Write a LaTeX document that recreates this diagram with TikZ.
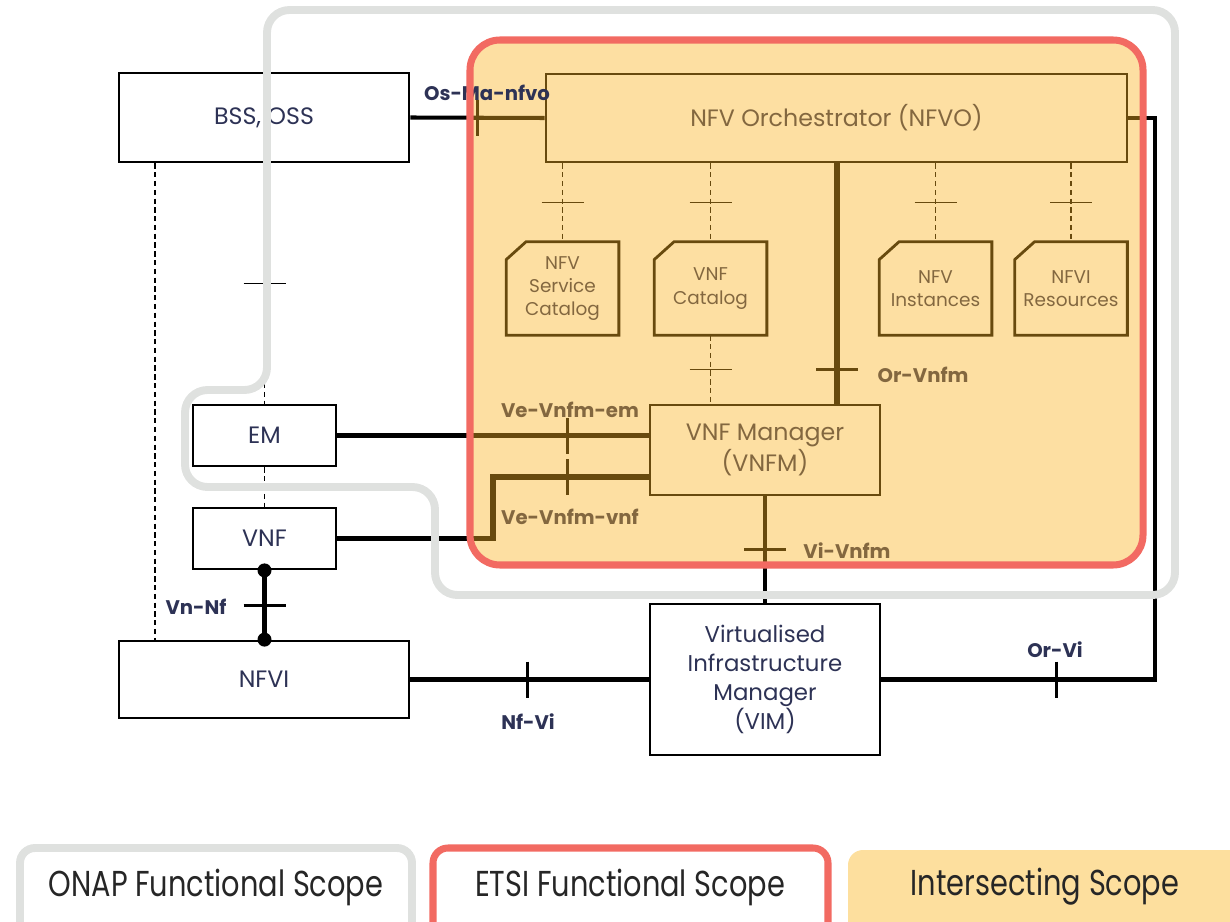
\documentclass[tikz,border=0pt]{standalone}
\usepackage{fontspec}
\setmainfont{Poppins}

\definecolor{etsired}{RGB}{242,106,98}
\definecolor{onapgray}{RGB}{223,225,223}
\definecolor{tint}{RGB}{250,178,34}
\definecolor{legorange}{RGB}{253,223,158}
\definecolor{navy}{RGB}{45,50,85}

\tikzset{
	box/.style={draw, line width=1.6pt, text=navy, inner sep=0pt, align=center, font=\fontsize{13.5}{16}\selectfont},
	store/.style={rectangle, text=navy, inner sep=0pt, align=center, minimum width=2.24cm, minimum height=1.86cm, font=\fontsize{10.5}{13.3}\selectfont},
	storeline/.style={line width=1.6pt},
	conn/.style={line width=2.3pt},
	thickconn/.style={line width=3.2pt},
	ref/.style={densely dashed, line width=0.8pt},
	iface/.style={text=navy, font=\bfseries\fontsize{11.2}{13}\selectfont},
	onap/.style={draw=onapgray, line width=4.5pt, rounded corners=0.45cm},
	etsi/.style={draw=etsired, line width=4pt, rounded corners=0.6cm},
	etsiscope/.style={fill=tint, opacity=0.42, rounded corners=0.6cm},
	legend/.style={text=black!85, font=\fontsize{20.5}{24}\selectfont},
	vbar/.pic={\draw[line width=1.7pt] (0,-18) -- (0,18);},
	hbar/.pic={\draw[line width=1.7pt] (-21,0) -- (21,0);},
	hbarthin/.pic={\draw[line width=0.8pt] (-21,0) -- (21,0);},
}

\begin{document}
\begin{tikzpicture}[x=0.02cm, y=-0.02cm]
	% canvas of the reference size
	\useasboundingbox (0,0) rectangle (1230,922);
	\clip (0,0) rectangle (1230,922);
	
	% Boxes outside the ETSI scope
	\node[box, minimum width=5.8cm, minimum height=1.78cm] (bss) at (264,117.5) {BSS, OSS};
	\node[box, minimum width=2.86cm, minimum height=1.22cm] (em) at (264.5,435.5) {EM};
	\node[box, minimum width=2.86cm, minimum height=1.22cm] (vnf) at (264.5,538.5) {VNF};
	\node[box, minimum width=5.8cm, minimum height=1.54cm] (nfvi) at (264,679.5) {NFVI};
	\node[box, minimum width=4.6cm, minimum height=3.02cm, font=\fontsize{13}{16.4}\selectfont] (vim) at (765,679.5) {Virtualised\\Infrastructure\\Manager\\(VIM)};
	
	% Boxes inside the ETSI scope
	\node[box, minimum width=11.62cm, minimum height=1.76cm] (nfvo) at (836.5,118) {NFV Orchestrator (NFVO)};
	\node[box, minimum width=4.6cm, minimum height=1.8cm] (vnfm) at (765,450) {VNF Manager\\(VNFM)};
	\node[store] (nsc) at (562.5,288.5) {NFV\\Service\\Catalog};
	\node[store] (vnfc) at (710.5,288.5) {VNF\\Catalog};
	\node[store] (nfvinst) at (935.5,288.5) {NFV\\Instances};
	\node[store] (nfvires) at (1071,288.5) {NFVI\\Resources};
	
	% Catalog outlines with the cut corner
	\foreach \c in {nsc, vnfc, nfvinst, nfvires}
		\draw[storeline] ([yshift=-0.36cm]\c.north west) -- ([xshift=0.4cm]\c.north west) -- (\c.north east) -- (\c.south east) -- (\c.south west) -- cycle;
	
	% Reference points for the bends
	\coordinate (xoss) at (155,0);
	\coordinate (xorvnfm) at (837,0);
	\coordinate (xorvi) at (1155,0);
	\coordinate (vbend) at (493,477);
	
	% Reference points
	\draw[conn] (bss.east) -- coordinate[pos=0.5] (osma) (nfvo.west);
	\pic at (osma) {vbar};
	\draw[thickconn] (nfvo.south -| xorvnfm) -- coordinate[pos=0.86] (orvnfm) (vnfm.north -| xorvnfm);
	\pic at (orvnfm) {hbar};
	\draw[conn] (em.east) -- coordinate[pos=0.74] (veem) (vnfm.west |- em.east);
	\pic at (veem) {vbar};
	\draw[thickconn] (vnf.east) -| (vbend) -- coordinate[pos=0.48] (vevnf) (vnfm.west |- vbend);
	\pic at (vevnf) {vbar};
	\draw[conn] (vnfm.south) -- coordinate[pos=0.5] (vivnfm) (vim.north);
	\pic at (vivnfm) {hbar};
	\draw[conn] (nfvi.east) -- coordinate[pos=0.49] (nfvi-vi) (vim.west);
	\pic at (nfvi-vi) {vbar};
	\draw[conn] (vim.east) -- coordinate[pos=0.64] (orvi) (vim.east -| xorvi) |- (nfvo.east);
	\pic at (orvi) {vbar};
	\draw[conn] (vnf.south) -- coordinate[pos=0.51] (vnnf) (nfvi.north -| vnf.south);
	\pic at (vnnf) {hbar};
	\fill (vnf.south) circle (0.14cm);
	\fill (nfvi.north -| vnf.south) circle (0.14cm);
	
	% Dashed links
	\foreach \c in {nsc, vnfc, nfvinst, nfvires} {
		\draw[ref] (nfvo.south -| \c.north) -- coordinate[pos=0.5] (t\c) (\c.north);
		\pic at (t\c) {hbarthin};
	}
	\draw[ref] (vnfc.south) -- coordinate[pos=0.5] (vnfcm) (vnfm.north -| vnfc.south);
	\pic at (vnfcm) {hbarthin};
	\draw[ref] (bss.south -| em.north) -- coordinate[pos=0.5] (bssem) (em.north);
	\pic at (bssem) {hbarthin};
	\draw[ref] (em.south) -- (vnf.north);
	\draw[ref] (bss.south -| xoss) -- (nfvi.north -| xoss);
	
	% Interface labels
	\node[iface] (lorvnfm) at (923,375) {Or-Vnfm};
	\node[iface] (lveem) at (570,410) {Ve-Vnfm-em};
	\node[iface] (lvevnf) at (570,517) {Ve-Vnfm-vnf};
	\node[iface] (lvivnfm) at (847,551) {Vi-Vnfm};
	\node[iface] (lvnnf) at (196,607) {Vn-Nf};
	\node[iface] (lnfvi) at (528,722) {Nf-Vi};
	\node[iface] (lorvi) at (1055,650) {Or-Vi};
	
	% ETSI scope tint and border
	\fill[etsiscope] (470,40) rectangle (1143,565);
	\node[iface] (losma) at (487,93) {Os-Ma-nfvo};
	\draw[etsi] (470,40) rectangle (1143,565);
	
	% ONAP scope outline
	\draw[onap] (267,200) -- (267,10) -- (1175,10) -- (1175,595) -- (435,595) -- (435,487) -- (185,487) -- (185,390) -- (267,390) -- cycle;
	
	% Legend
	\draw[onap, rounded corners=0.3cm] (20,848) rectangle (412,945);
	\node[legend] (legonap) at (216,887) {\scalebox{0.8}[1]{ONAP Functional Scope}};
	\draw[etsi, rounded corners=0.3cm] (433,848) rectangle (828,945);
	\node[legend] (legetsi) at (630,887) {\scalebox{0.8}[1]{ETSI Functional Scope}};
	\fill[legorange, rounded corners=0.3cm] (848,850) rectangle (1260,945);
	\node[legend] (legboth) at (1045,887) {\scalebox{0.8}[1]{Intersecting Scope}};
\end{tikzpicture}
\end{document}
